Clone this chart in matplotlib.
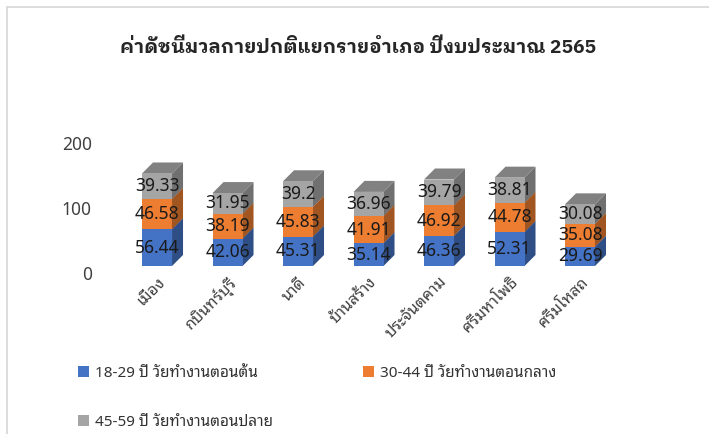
import matplotlib
matplotlib.use('Agg')
import matplotlib.pyplot as plt
from matplotlib.patches import Polygon, Patch, Rectangle
from matplotlib.transforms import ScaledTranslation
import numpy as np

plt.rcParams['font.family'] = ['Noto Sans Thai Looped', 'Noto Sans', 'DejaVu Sans']

# ข้อมูล
districts = ['เมือง', 'กบินทร์บุรี', 'นาดี', 'บ้านสร้าง', 'ประจันตคาม', 'ศรีมหาโพธิ', 'ศรีมโหสถ']
age_18_29 = [56.44, 42.06, 45.31, 35.14, 46.36, 52.31, 29.69]
age_30_44 = [46.58, 38.19, 45.83, 41.91, 46.92, 44.78, 35.08]
age_45_59 = [39.33, 31.95, 39.2, 36.96, 39.79, 38.81, 30.08]
series_names = ['18-29 ปี วัยทำงานตอนต้น', '30-44 ปี วัยทำงานตอนกลาง', '45-59 ปี วัยทำงานตอนปลาย']
colors = ['#4472C4', '#ED7D31', '#A5A5A5']
title = 'ค่าดัชนีมวลกายปกติแยกรายอำเภอ ปีงบประมาณ 2565'


def shade(c, k):
    rgb = np.array(matplotlib.colors.to_rgb(c))
    return tuple(rgb * k)


W, H = 709, 434
fig = plt.figure(figsize=(W / 100, H / 100), dpi=100)

# กรอบแผนภูมิ
fig.patches.append(Rectangle((7 / W, -0.1), 1.2, 1.1 - 7 / H, transform=fig.transFigure,
                             fill=False, edgecolor='#D9D9D9', linewidth=1.3))

ax = fig.add_axes([100 / W, 168 / H, 540 / W, 149.5 / H])
ax.set_xlim(-0.809, 6.851)
ax.set_ylim(0, 230)

bw = 0.4255      # ความกว้างแท่ง
ddx = 11 / 70.5  # ความลึกแนวนอน
ddy = 11 / 0.65  # ความลึกแนวตั้ง

data = [age_18_29, age_30_44, age_45_59]
for i in range(len(districts)):
    base = 0
    for s, vals in enumerate(data):
        v = vals[i]
        x0, x1 = i - bw / 2, i + bw / 2
        b, t = base, base + v
        side = Polygon([(x1, b), (x1 + ddx, b + ddy), (x1 + ddx, t + ddy), (x1, t)],
                       closed=True, facecolor=shade(colors[s], 0.68), edgecolor='none', clip_on=False)
        top = Polygon([(x0, t), (x0 + ddx, t + ddy), (x1 + ddx, t + ddy), (x1, t)],
                      closed=True, facecolor=shade(colors[s], 0.78), edgecolor='none', clip_on=False)
        front = Polygon([(x0, b), (x1, b), (x1, t), (x0, t)],
                        closed=True, facecolor=colors[s], edgecolor='none', clip_on=False)
        ax.add_patch(side)
        ax.add_patch(top)
        ax.add_patch(front)
        ax.text(i, b + v / 2, str(v), ha='center', va='center', fontsize=12.5, color='#1a1a1a')
        base = t

for sp in ax.spines.values():
    sp.set_visible(False)
ax.set_yticks([0, 100, 200])
ax.tick_params(axis='y', length=0, pad=6, labelsize=12.5, labelcolor='#404040')
for lab in ax.get_yticklabels():
    lab.set_transform(lab.get_transform() + ScaledTranslation(0, -7 / 100, fig.dpi_scale_trans))

ax.set_xticks(range(len(districts)))
ax.set_xticklabels(districts, rotation=45, ha='right', va='top', rotation_mode='anchor',
                   fontsize=11.5, color='#404040')
ax.tick_params(axis='x', length=0, pad=6)

fig.text(358 / W, 1 - 48 / H, title, ha='center', va='center', fontsize=13.8,
         fontweight='bold', color='#262626',
         family=['IBM Plex Sans Thai Looped', 'Noto Sans', 'DejaVu Sans'])

handles = [Patch(facecolor=colors[0]), Patch(facecolor=colors[2]), Patch(facecolor=colors[1])]
labels = [series_names[0], series_names[2], series_names[1]]
fig.legend(handles, labels, ncol=2, loc='upper left', bbox_to_anchor=(78 / W, 1 - 366 / H),
           frameon=False, fontsize=11, handlelength=0.7, handleheight=0.7,
           handletextpad=0.4, columnspacing=5.9, labelspacing=2.2, borderpad=0,
           borderaxespad=0, labelcolor='#333333')

fig.savefig('out.png')
